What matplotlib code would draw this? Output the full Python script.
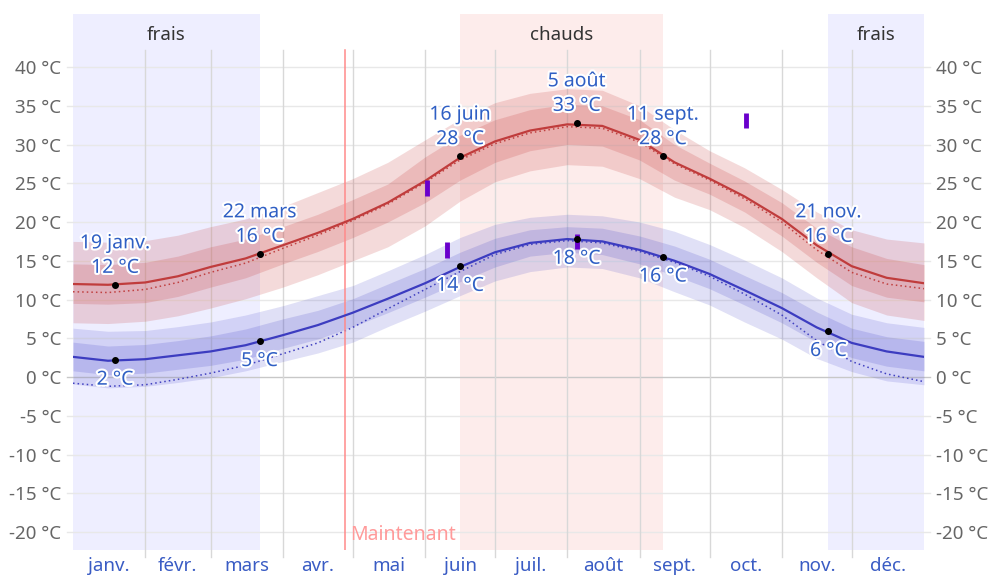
import numpy as np
import matplotlib
matplotlib.use('Agg')
import matplotlib.pyplot as plt
import matplotlib.patheffects as pe
import matplotlib.transforms as mtransforms

plt.rcParams['font.family'] = ['Noto Sans', 'DejaVu Sans']

# données (jour de l'année, 0 = 1er janv.)
days = [0, 15, 31, 45, 59, 74, 90, 105, 120, 135, 151, 166, 181,
        196, 212, 227, 243, 258, 273, 288, 304, 319, 334, 349, 365]

# maximales
hi_mean = [12.0, 11.9, 12.2, 13.0, 14.2, 15.3, 17.0, 18.6, 20.4, 22.5, 25.3, 28.3, 30.4,
           31.8, 32.6, 32.4, 30.6, 27.7, 25.6, 23.3, 20.4, 17.0, 14.3, 12.8, 12.1]
hi_dotted = [11.0, 10.9, 11.3, 12.2, 13.5, 14.7, 16.6, 18.3, 20.2, 22.3, 25.1, 28.0, 30.1,
             31.5, 32.3, 32.1, 30.3, 27.5, 25.4, 23.0, 20.0, 16.4, 13.5, 12.0, 11.4]
hi_outer_top = [17.5, 17.4, 17.6, 18.3, 19.4, 20.4, 22.0, 23.8, 25.6, 27.7, 30.6, 33.3, 35.4,
                36.6, 37.2, 37.0, 35.0, 31.9, 29.2, 27.0, 24.2, 21.3, 19.0, 17.8, 17.3]
hi_outer_bot = [7.0, 6.9, 7.2, 7.9, 8.9, 10.1, 11.6, 13.2, 15.0, 16.8, 19.5, 22.7, 25.2,
                26.6, 27.4, 27.2, 25.6, 23.2, 21.6, 19.3, 16.2, 12.8, 9.6, 8.0, 7.3]
hi_inner_top = [14.6, 14.5, 14.8, 15.6, 16.8, 17.8, 19.4, 21.0, 22.9, 24.9, 28.4, 31.2, 33.2,
                34.5, 35.2, 35.0, 33.2, 30.0, 27.6, 25.3, 22.5, 19.2, 16.8, 15.3, 14.5]
hi_inner_bot = [9.5, 9.4, 9.6, 10.4, 11.6, 12.8, 14.6, 16.2, 18.0, 20.0, 22.5, 25.4, 27.7,
                29.2, 30.0, 29.8, 28.0, 25.4, 23.6, 21.3, 18.2, 14.8, 11.8, 10.3, 9.7]

# minimales
lo_mean = [2.6, 2.1, 2.3, 2.8, 3.3, 4.1, 5.4, 6.7, 8.3, 10.1, 12.1, 14.2, 16.1,
           17.3, 17.8, 17.5, 16.4, 15.0, 13.3, 11.2, 8.9, 6.4, 4.4, 3.3, 2.6]
lo_dotted = [-0.8, -1.2, -1.0, -0.3, 0.5, 1.5, 3.0, 4.4, 6.4, 8.8, 11.3, 13.6, 15.8,
             17.1, 17.6, 17.3, 16.2, 14.8, 13.0, 10.7, 8.0, 4.7, 2.0, 0.4, -0.6]
lo_outer_top = [6.3, 5.9, 6.0, 6.5, 7.1, 8.0, 9.2, 10.5, 11.8, 13.7, 15.8, 18.0, 19.7,
                20.6, 21.0, 20.8, 20.0, 18.8, 17.1, 15.1, 12.8, 10.2, 8.1, 7.0, 6.4]
lo_outer_bot = [-0.9, -1.4, -1.2, -0.7, -0.1, 0.8, 2.0, 3.1, 4.5, 6.5, 8.5, 10.5, 12.4,
                13.6, 14.2, 14.0, 12.8, 11.0, 9.3, 7.1, 4.9, 2.4, 0.7, -0.5, -1.0]
lo_inner_top = [4.5, 4.0, 4.2, 4.7, 5.3, 6.2, 7.5, 8.6, 10.1, 12.0, 14.0, 16.1, 17.9,
                19.0, 19.4, 19.2, 18.2, 16.9, 15.2, 13.1, 10.9, 8.4, 6.3, 5.2, 4.6]
lo_inner_bot = [0.8, 0.3, 0.5, 1.0, 1.5, 2.3, 3.7, 4.9, 6.5, 8.3, 10.3, 12.3, 14.2,
                15.6, 16.1, 15.8, 14.6, 13.1, 11.4, 9.3, 7.0, 4.5, 2.5, 1.4, 0.8]

# points remarquables
key_days = [18, 80, 166, 216, 253, 324]
key_names = ['19 janv.', '22 mars', '16 juin', '5 août', '11 sept.', '21 nov.']
key_hi = [11.9, 15.9, 28.5, 32.8, 28.5, 15.9]
key_lo = [2.2, 4.6, 14.3, 17.8, 15.5, 5.9]
key_hi_lbl = [12, 16, 28, 33, 28, 16]
key_lo_lbl = [2, 5, 14, 18, 16, 6]

# relevés
obs_days = [152, 160.5, 216, 288.5]
obs_low = [23.4, 15.4, 16.5, 32.1]
obs_high = [25.4, 17.4, 18.5, 34.1]

# saisons
season_names = ['frais', 'chauds', 'frais']
season_start = [0, 166, 324]
season_end = [80, 253, 365]
season_colors = ['#eeeeff', '#fdeceb', '#eeeeff']

now_day = 116.5

month_names = ['janv.', 'févr.', 'mars', 'avr.', 'mai', 'juin', 'juil.', 'août',
               'sept.', 'oct.', 'nov.', 'déc.']
month_len = [31, 28, 31, 30, 31, 30, 31, 31, 30, 31, 30, 31]
month_start = np.concatenate([[0], np.cumsum(month_len)[:-1]])
month_mid = month_start + np.array(month_len) / 2

yticks = list(range(-20, 45, 5))

fig = plt.figure(figsize=(9.89, 5.77), dpi=100)
ax = fig.add_axes([73 / 989, 1 - 550 / 577, 851 / 989, 536 / 577])
ax.set_xlim(0, 365)
ax.set_ylim(-22.32, 46.84)
for s in ax.spines.values():
    s.set_visible(False)

# saisons
for name, a, b, c in zip(season_names, season_start, season_end, season_colors):
    ax.axvspan(a, b, color=c, zorder=0, lw=0)
    ax.text((a + b) / 2, 44.1, name, ha='center', va='center', fontsize=13.5,
            color='#333333', zorder=6)

# grille
tr = mtransforms.blended_transform_factory(ax.transAxes, ax.transData)
for t in yticks:
    ax.plot([-6 / 851, 1 + 6 / 851], [t, t], transform=tr, clip_on=False,
            color='#c8c8c8' if t == 0 else '#e8e8e8', lw=1, zorder=0.5)
for m in month_start[1:]:
    ax.plot([m, m], [42.2, -23.2], clip_on=False, color='#d8d8d8', lw=1, zorder=0.5)

# bandes
red = (0.78, 0.24, 0.24)
blue = (0.25, 0.25, 0.78)
ax.fill_between(days, hi_outer_bot, hi_outer_top, color=red, alpha=0.19, lw=0, zorder=1)
ax.fill_between(days, hi_inner_bot, hi_inner_top, color=red, alpha=0.2, lw=0, zorder=1)
ax.fill_between(days, lo_outer_bot, lo_outer_top, color=blue, alpha=0.16, lw=0, zorder=1)
ax.fill_between(days, lo_inner_bot, lo_inner_top, color=blue, alpha=0.18, lw=0, zorder=1)

ax.plot(days, hi_dotted, ls=(0, (1, 2)), color='#c04040', lw=1.1, zorder=2)
ax.plot(days, lo_dotted, ls=(0, (1, 2)), color='#4040c0', lw=1.1, zorder=2)
ax.plot(days, hi_mean, color='#c03c3c', lw=1.6, zorder=3)
ax.plot(days, lo_mean, color='#3c3cc0', lw=1.6, zorder=3)

# maintenant
ax.plot([now_day, now_day], [42.2, -22.3], color='#ff8a8a', lw=1.1, zorder=2.5)
ax.text(now_day + 2.5, -20.4, 'Maintenant', color='#ff9a9a', fontsize=14,
        ha='left', va='center', zorder=6)

# relevés
ax.vlines(obs_days, obs_low, obs_high, color='#6a00cc', lw=3.5, zorder=4)

# points remarquables
ax.plot(key_days, key_hi, 'o', color='black', ms=4, zorder=5)
ax.plot(key_days, key_lo, 'o', color='black', ms=4, zorder=5)
halo = [pe.withStroke(linewidth=3, foreground='white')]
for d, n, v, l in zip(key_days, key_names, key_hi, key_hi_lbl):
    ax.annotate(f'{n}\n{l} °C', (d, v), xytext=(0, 5), textcoords='offset points',
                ha='center', va='bottom', fontsize=14, color='#2f5fc4',
                linespacing=1.3, path_effects=halo, zorder=6)
for d, v, l in zip(key_days, key_lo, key_lo_lbl):
    ax.annotate(f'{l} °C', (d, v), xytext=(0, -7), textcoords='offset points',
                ha='center', va='top', fontsize=14, color='#2f5fc4',
                path_effects=halo, zorder=6)

# axes
ax.set_yticks(yticks)
ax.set_yticklabels([f'{t} °C' for t in yticks])
ax.tick_params(axis='y', which='both', left=False, right=False, labelleft=True,
               labelright=True, labelsize=13.5, labelcolor='#666666', pad=5)
ax.set_xticks(month_mid)
ax.set_xticklabels(month_names)
ax.tick_params(axis='x', length=0, pad=5, labelsize=13.5, labelcolor='#3a5cc4')

fig.savefig('out.png', dpi=100)
